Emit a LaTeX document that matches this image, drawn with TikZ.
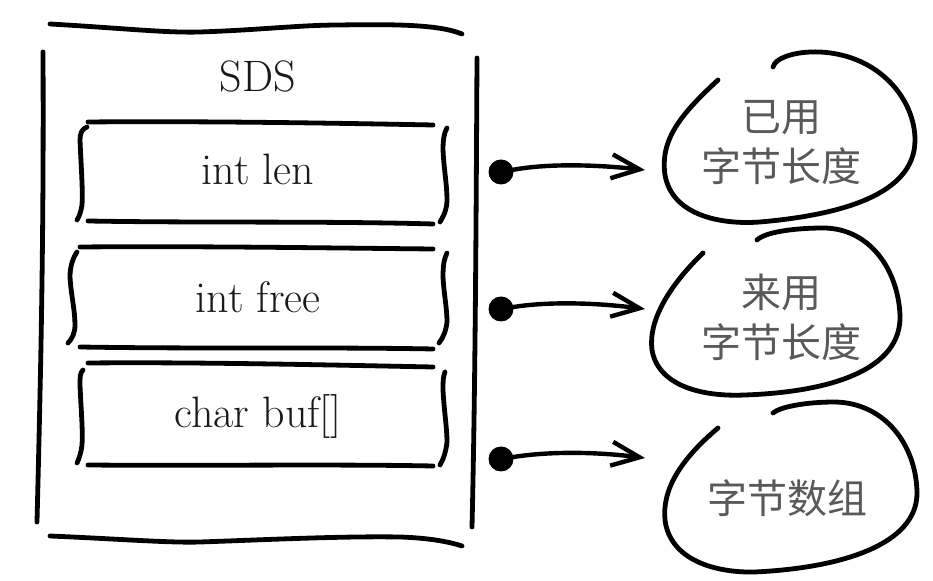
\documentclass[tikz,border=0pt]{standalone}
\usepackage{fontspec}
\newfontfamily\cjk{Noto Sans CJK SC}
\usepackage{tikz}
\usetikzlibrary{arrows.meta}
\tikzset{
  sketch/.style={line width=2.4pt, line cap=round, line join=round},
  field/.style={anchor=base, inner sep=0pt, font=\fontsize{22}{26}\selectfont, text=black!90},
  blobtext/.style={align=center, inner sep=0pt, font=\cjk\fontsize{20}{25}\selectfont, text=black!65},
  pin/.style={circle, fill=black, inner sep=0pt, minimum size=12.5pt},
  pointer/.style={-{Straight Barb[length=14pt, width=12pt]}, line width=2.2pt, line cap=round, line join=round}
}

\begin{document}
\begin{tikzpicture}[x=0.5pt, y=-0.5pt]
  \useasboundingbox (0,0) rectangle (933,581);

  % outer SDS frame
  \draw[sketch] (50,24) .. controls (120,28) and (165,33) .. (200,32) .. controls (260,30) and (300,25) .. (340,25) .. controls (400,24) and (440,25) .. (462,34);
  \draw[sketch] (43,52) .. controls (44,250) and (40,400) .. (37,522);
  \draw[sketch] (477,58) .. controls (476,250) and (475,400) .. (472,527);
  \draw[sketch] (50,536) .. controls (120,539) and (170,543) .. (200,542) .. controls (260,540) and (340,536) .. (400,537) .. controls (430,538) and (450,542) .. (462,546);

  % field boxes
  \draw[sketch] (88,122) .. controls (200,121) and (330,123) .. (433,125);
  \draw[sketch] (88,221) .. controls (200,223) and (330,221) .. (433,224);
  \draw[sketch] (87,127) .. controls (82,129) and (80,133) .. (80,140) .. controls (81,165) and (83,190) .. (82,205) .. controls (81,212) and (79,217) .. (77,220);
  \draw[sketch] (447,128) .. controls (444,133) and (443,140) .. (443,150) .. controls (444,170) and (447,185) .. (447,200) .. controls (447,210) and (443,217) .. (440,222);

  \draw[sketch] (80,247) .. controls (200,246) and (330,248) .. (433,249);
  \draw[sketch] (80,347) .. controls (200,349) and (330,347) .. (433,349);
  \draw[sketch] (77,252) .. controls (73,258) and (70,266) .. (70,277) .. controls (71,295) and (75,310) .. (75,325) .. controls (75,333) and (72,339) .. (68,343);
  \draw[sketch] (447,253) .. controls (444,259) and (443,266) .. (443,277) .. controls (444,295) and (447,308) .. (447,322) .. controls (446,331) and (443,338) .. (439,343);

  \draw[sketch] (88,363) .. controls (200,362) and (330,365) .. (433,367);
  \draw[sketch] (88,465) .. controls (200,466) and (330,464) .. (433,466);
  \draw[sketch] (83,370) .. controls (80,373) and (80,377) .. (80,385) .. controls (81,410) and (83,430) .. (82,445) .. controls (81,453) and (79,459) .. (77,463);
  \draw[sketch] (445,372) .. controls (443,377) and (443,382) .. (443,390) .. controls (444,410) and (447,428) .. (447,442) .. controls (446,452) and (443,460) .. (440,465);

  \node[field] (sds) at (258,92) {SDS};
  \node[field] (len) at (258,185) {int len};
  \node[field] (free) at (258,313) {int free};
  \node[field] (buf) at (258,428) {char buf[]};

  % pointers
  \node[pin] (d1) at (501,172) {};
  \node[pin] (d2) at (501,309) {};
  \node[pin] (d3) at (501,459) {};
  \coordinate (e1) at (645,170);
  \coordinate (e2) at (645,309);
  \coordinate (e3) at (645,458);
  \draw[pointer] (d1) .. controls (545,164) and (590,164) .. (e1);
  \draw[pointer] (d2) .. controls (545,302) and (590,302) .. (e2);
  \draw[pointer] (d3) .. controls (545,452) and (590,451) .. (e3);

  % blobs
  \draw[sketch] (718,80) .. controls (680,115) and (660,140) .. (665,175) .. controls (672,215) and (720,225) .. (760,222) .. controls (840,215) and (915,195) .. (915,140) .. controls (915,100) and (880,55) .. (820,52) .. controls (795,51) and (775,58) .. (773,67);
  \draw[sketch] (703,253) .. controls (670,285) and (648,320) .. (652,350) .. controls (658,385) and (700,397) .. (745,395) .. controls (830,392) and (902,370) .. (900,315) .. controls (898,270) and (870,228) .. (823,228) .. controls (795,228) and (765,232) .. (757,240);
  \draw[sketch] (718,428) .. controls (680,460) and (662,490) .. (665,520) .. controls (670,560) and (715,573) .. (755,572) .. controls (840,568) and (918,545) .. (917,492) .. controls (916,445) and (885,403) .. (835,402) .. controls (805,402) and (780,407) .. (773,413);

  \node[blobtext] (used) at (781,143) {已用\\字节长度};
  \node[blobtext] (unused) at (781,317) {来用\\字节长度};
  \node[blobtext] (bytes) at (787,498) {字节数组};
\end{tikzpicture}
\end{document}
